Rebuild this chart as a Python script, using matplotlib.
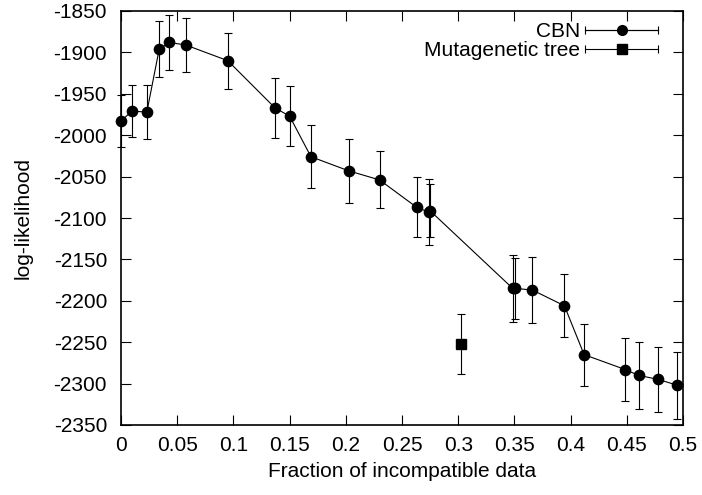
import matplotlib
matplotlib.use('Agg')
import matplotlib.pyplot as plt
import numpy as np
from matplotlib.container import ErrorbarContainer
from matplotlib.legend_handler import HandlerErrorbar

# ---- data ----
cbn_x = [0.0, 0.0095, 0.023, 0.034, 0.043, 0.0575, 0.095, 0.137, 0.150, 0.169,
         0.2025, 0.230, 0.263, 0.274, 0.2748, 0.3485, 0.3505, 0.366, 0.3945,
         0.412, 0.4485, 0.4605, 0.478, 0.495]
cbn_y = [-1983, -1971, -1972, -1896, -1888, -1891, -1910, -1967, -1977, -2026,
         -2043, -2054, -2087, -2093, -2091, -2185, -2185, -2187, -2206,
         -2265, -2283, -2290, -2295, -2302]
cbn_err = [31, 31.5, 32.5, 33.5, 33, 33, 34, 36.5, 36, 37.8,
           38.5, 34.5, 36, 40, 32, 40.5, 37, 40, 38,
           37.5, 38.5, 40.5, 39, 40.5]

mt_x = [0.3025]
mt_y = [-2252]
mt_err = [36.5]

x_ticks = [0, 0.05, 0.1, 0.15, 0.2, 0.25, 0.3, 0.35, 0.4, 0.45, 0.5]
x_labels = ['0', '0.05', '0.1', '0.15', '0.2', '0.25', '0.3', '0.35', '0.4', '0.45', '0.5']
y_ticks = [-2350, -2300, -2250, -2200, -2150, -2100, -2050, -2000, -1950, -1900, -1850]
y_labels = [str(v) for v in y_ticks]

series_labels = ['CBN', 'Mutagenetic tree']

# ---- style ----
plt.rcParams['font.family'] = ['Liberation Sans', 'DejaVu Sans']
plt.rcParams['axes.unicode_minus'] = False
fs = 15

fig = plt.figure(figsize=(7.02, 4.95), dpi=100)
ax = fig.add_axes([121 / 702, 1 - 425 / 495, 562 / 702, 414 / 495])

common = dict(color='black', elinewidth=0.8, capsize=3.0, capthick=0.8, zorder=3)
c1 = ax.errorbar(cbn_x, cbn_y, yerr=cbn_err, fmt='-o', ms=7.4, lw=0.8, **common)
c2 = ax.errorbar(mt_x, mt_y, yerr=mt_err, fmt='s', ms=7.0, **common)
for c in (c1, c2):
    for art in c.get_children():
        art.set_clip_on(False)

ax.set_xlim(0, 0.5)
ax.set_ylim(-2350, -1850)
ax.set_xticks(x_ticks)
ax.set_xticklabels(x_labels)
ax.set_yticks(y_ticks)
ax.set_yticklabels(y_labels)

ax.tick_params(direction='in', length=7, width=0.8, top=True, right=True,
               labelsize=fs)
ax.tick_params(axis='x', pad=8)
ax.tick_params(axis='y', pad=10)
for s in ax.spines.values():
    s.set_linewidth(1.2)

ax.set_xlabel('Fraction of incompatible data', fontsize=fs, labelpad=5)
ax.set_ylabel('log-likelihood', fontsize=fs)
ax.yaxis.set_label_coords(-0.158, 0.5)

# legend proxies (horizontal error-bar samples, like gnuplot keys)
p1 = ax.errorbar([np.nan], [np.nan], xerr=[1], fmt='-o', ms=7.0, lw=0.8, **common)
p2 = ax.errorbar([np.nan], [np.nan], xerr=[1], fmt='s', ms=6.6, **common)
leg = ax.legend([p1, p2], series_labels, loc='upper right',
                bbox_to_anchor=((658 - 121) / 562, (425 - 22) / 414),
                frameon=False, markerfirst=False, handlelength=3.5,
                handletextpad=0.25, labelspacing=0.0, borderpad=0,
                borderaxespad=0, fontsize=fs,
                handler_map={ErrorbarContainer: HandlerErrorbar(xerr_size=1.75)})

fig.savefig('out.png', dpi=100)
